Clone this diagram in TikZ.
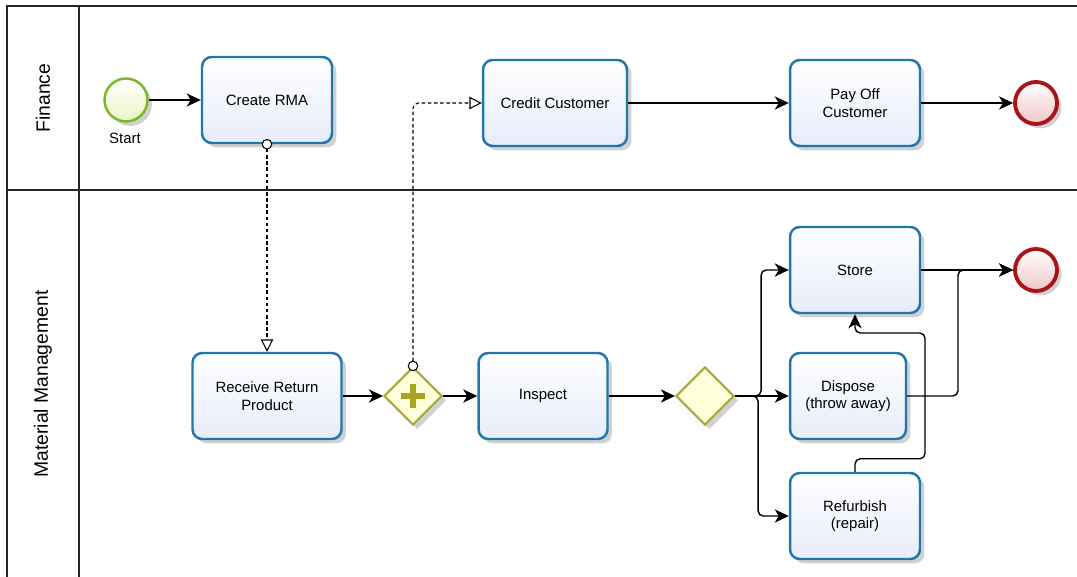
\documentclass[tikz,border=0pt]{standalone}
\usepackage{fontspec}
\setmainfont{Liberation Sans}
\usetikzlibrary{arrows.meta,shadows,shapes.geometric}

\definecolor{taskblue}{HTML}{2277AA}
\definecolor{taskfill}{HTML}{E6ECFA}
\definecolor{startgreen}{HTML}{7AB82A}
\definecolor{startfill}{HTML}{EAF6C4}
\definecolor{endred}{HTML}{A8141A}
\definecolor{endfill}{HTML}{F0C6C8}
\definecolor{gateolive}{HTML}{A8A838}
\definecolor{gatefill}{HTML}{FFFFDC}
\definecolor{plusolive}{HTML}{A6A622}

\tikzset{
  shade/.style={drop shadow={shadow xshift=2.5pt,shadow yshift=-2.5pt,opacity=0.18,fill=black}},
  task/.style={draw=taskblue,line width=1.4pt,rounded corners=5.5pt,
    top color=white,bottom color=taskfill,shade,
    minimum width=2.6cm,minimum height=1.72cm,align=center,
    font=\fontsize{8.5}{10}\selectfont},
  startev/.style={circle,draw=startgreen,line width=1.4pt,top color=white,
    bottom color=startfill,shade,minimum size=0.86cm,inner sep=0pt},
  endev/.style={circle,draw=endred,line width=2.2pt,top color=white,
    bottom color=endfill,shade,minimum size=0.84cm,inner sep=0pt},
  gate/.style={diamond,draw=gateolive,line width=1.2pt,fill=gatefill,shade,
    minimum width=1.16cm,minimum height=1.16cm,inner sep=0pt},
  flow/.style={line width=0.8pt,-{Stealth[length=8pt,width=7.5pt,inset=2.3pt]},rounded corners=3pt},
  msg/.style={line width=0.6pt,black,dash pattern=on 2pt off 1.5pt,
    {Circle[open,length=6pt,fill=white,line width=0.6pt]}-{Triangle[open,length=7pt,width=7pt,fill=white,line width=0.6pt]},
    shorten <=-3pt,rounded corners=3pt},
  lane/.style={rotate=90,font=\fontsize{11}{13}\selectfont}
}

\begin{document}
\begin{tikzpicture}[x=0.02cm,y=-0.02cm]
  \useasboundingbox (0,0) rectangle (1077,577);

  % pool and lanes
  \draw[line width=0.9pt,black!85] (1077,6) -- (7,6) -- (7,577);
  \draw[line width=0.9pt,black!85] (79,6) -- (79,577);
  \draw[line width=0.9pt,black!85] (7,190) -- (1077,190);
  \node[lane] (finance) at (43,98) {Finance};
  \node[lane] (material) at (43,384) {Material Management};

  % finance lane
  \node[startev] (start) at (126,100) {};
  \node[font=\fontsize{8.5}{10}\selectfont] (startlbl) at (125,138) {Start};
  \node[task] (rma) at (267,100) {Create RMA};
  \node[task,minimum width=2.88cm] (credit) at (555,103) {Credit Customer};
  \node[task] (payoff) at (855,103) {Pay Off\\Customer};
  \node[endev] (endA) at (1036,103) {};

  % material management lane
  \node[task,minimum width=2.98cm] (receive) at (267,396) {Receive Return\\Product};
  \node[gate] (fork) at (413,396) {};
  \draw[plusolive,line width=3.6pt] (fork.center) ++(-12,0) -- ++(24,0)
    (fork.center) ++(0,-12) -- ++(0,24);
  \node[task,minimum width=2.58cm] (inspect) at (543,396) {Inspect};
  \node[gate] (split) at (705,396) {};
  \node[task] (store) at (855,270) {Store};
  \node[task,minimum width=2.32cm] (dispose) at (848,396) {Dispose\\(throw away)};
  \node[task] (refurb) at (855,516) {Refurbish\\(repair)};
  \node[endev] (endB) at (1036,270) {};

  % sequence flows
  \draw[flow] (start) -- (rma);
  \draw[flow] (credit) -- (payoff);
  \draw[flow] (payoff) -- (endA);
  \draw[flow] (receive) -- (fork);
  \draw[flow] (fork) -- (inspect);
  \draw[flow] (inspect) -- (split);
  \draw[flow] (split.east) -- ++(26,0) |- (store.west);
  \draw[flow] (split) -- (dispose);
  \draw[flow] (split.east) -- ++(23,0) |- (refurb.west);
  \draw[flow] (store) -- (endB);
  \draw[flow] (dispose.east) -| (958,270) -- (endB.west);
  \draw[flow] (refurb.north) -- ++(0,-13) -| (925,333) -| (store.south);

  % message flows
  \draw[msg] (rma.south) -- (receive.north);
  \draw[msg] (fork.north) |- (credit.west);
\end{tikzpicture}
\end{document}
